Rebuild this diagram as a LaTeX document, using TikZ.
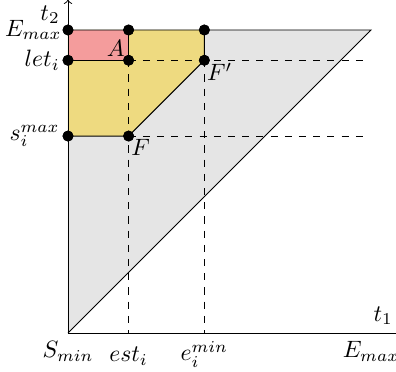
\documentclass[tikz,border=0pt]{standalone}
\definecolor{redfill}{RGB}{244,156,156}
\definecolor{yellowfill}{RGB}{238,218,128}
\definecolor{grayfill}{RGB}{229,229,229}
\begin{document}
\begin{tikzpicture}[x=0.45cm,y=0.45cm,
  dot/.style={circle,fill=black,inner sep=0pt,minimum size=4.6pt},
  dashline/.style={dashed,line width=0.4pt},
  edge/.style={line width=0.4pt}]
\useasboundingbox (-2.244,-1.287) rectangle (10.825,10.99);
% coordinates
\coordinate (O) at (0,0);
\coordinate (Tr) at (10,10);
\coordinate (Tl) at (0,10);
\coordinate (Xend) at (11,0);
\coordinate (Yend) at (0,11);
\coordinate (Xest) at (2,0);
\coordinate (Xemin) at (4.5,0);
\coordinate (Xemax) at (10,0);
\coordinate (Rlet) at (9.75,9);
\coordinate (Rs) at (9.75,6.5);
% fills
\fill[grayfill] (O) -- (Tr) -- (Tl) -- cycle;
\fill[yellowfill] (0,6.5) -- (2,6.5) -- (4.5,9) -- (4.5,10) -- (0,10) -- cycle;
\fill[redfill] (0,9) rectangle (2,10);
% dots
\node[dot] (P1) at (0,10) {};
\node[dot] (P2) at (2,10) {};
\node[dot] (P3) at (4.5,10) {};
\node[dot] (Plet) at (0,9) {};
\node[dot] (A) at (2,9) {};
\node[dot] (Fp) at (4.5,9) {};
\node[dot] (Psmax) at (0,6.5) {};
\node[dot] (F) at (2,6.5) {};
% dashed lines
\draw[dashline] (A.center) -- (Rlet);
\draw[dashline] (F.center) -- (Rs);
\draw[dashline] (A.center) -- (Xest);
\draw[dashline] (Fp.center) -- (Xemin);
% solid edges
\draw[edge] (Tl) -- (Tr) -- (O);
\draw[edge] (Psmax.center) -- (F.center) -- (Fp.center) -- (P3.center);
\draw[edge] (Plet.center) -- (A.center) -- (P2.center);
% axes
\draw[->] (O) -- (Xend);
\draw[->] (O) -- (Yend);
% redraw dots on top
\foreach \n in {P1,P2,P3,Plet,A,Fp,Psmax,F} \fill (\n) circle (2.3pt);
% labels
\node[anchor=east] (lt2) at (0,10.5) {$t_2$};
\node[left,inner sep=2.5pt] (lEmax) at (P1) {$E_{max}$};
\node[left] (llet) at (Plet) {$let_i$};
\node[left] (lsmax) at (Psmax) {$s_i^{max}$};
\node[above left,inner sep=1.5pt] (lA) at (A) {$A$};
\node[below right,inner sep=1pt] (lF) at (F) {$F$};
\node[below right,inner sep=1pt] (lFp) at (Fp) {$F'$};
\node[below] (lSmin) at (O) {$S_{min}$};
\node[below,yshift=-2.5pt] (lest) at (Xest) {$est_i$};
\node[below] (lemin) at (Xemin) {$e_i^{min}$};
\node[below] (lEmaxb) at (Xemax) {$E_{max}$};
\node[above] (lt1) at (10.4,0) {$t_1$};
\end{tikzpicture}
\end{document}
